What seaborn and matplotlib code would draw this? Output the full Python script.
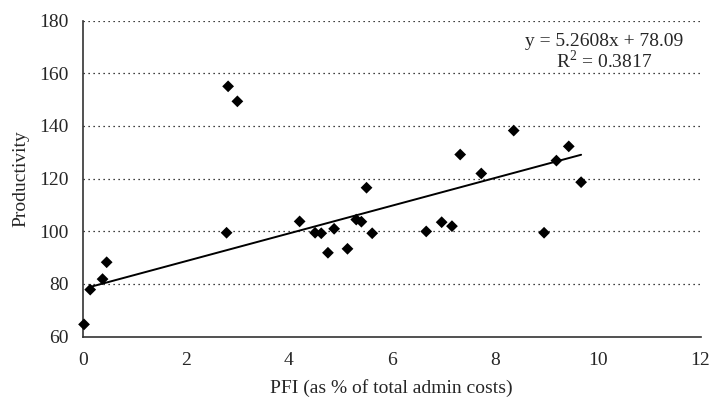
import numpy as np
import pandas as pd
import matplotlib
matplotlib.use("Agg")
import matplotlib.pyplot as plt
import seaborn as sns

pfi = [0.02, 0.14, 0.38, 0.46, 2.79, 2.82, 3.0, 4.21, 4.51, 4.63, 4.76, 4.88,
       5.14, 5.31, 5.41, 5.51, 5.62, 6.67, 6.97, 7.17, 7.33, 7.74, 8.37,
       8.96, 9.20, 9.44, 9.68]
productivity = [64.6, 77.8, 81.8, 88.2, 99.4, 155.0, 149.3, 103.7, 99.4, 99.2,
                91.8, 100.9, 93.3, 104.4, 103.6, 116.5, 99.2, 99.9, 103.4,
                101.9, 129.1, 121.9, 138.2, 99.4, 126.8, 132.2, 118.6]
slope = 5.2608
intercept = 78.09
r2 = 0.3817
x_ticks = [0, 2, 4, 6, 8, 10, 12]
y_ticks = [60, 80, 100, 120, 140, 160, 180]

df = pd.DataFrame({"PFI": pfi, "Productivity": productivity})

sns.set_style("white")
plt.rcParams['font.family'] = ['Liberation Serif', 'DejaVu Serif']
plt.rcParams['mathtext.fontset'] = 'custom'
plt.rcParams['mathtext.rm'] = 'Liberation Serif'

fig = plt.figure(figsize=(7.11, 3.97), dpi=100)
ax = fig.add_axes([83/711, 1-336.5/397, (700.5-83)/711, (336.5-20.5)/397])

for yv in y_ticks[1:]:
    ax.axhline(yv, color='black', linestyle=(0, (1, 3)), linewidth=0.9, zorder=0)

sns.scatterplot(data=df, x="PFI", y="Productivity", marker='D', s=36,
                color='black', edgecolor='none', ax=ax, zorder=3, clip_on=False)

xl = np.array([min(pfi) + 0.1, max(pfi)])
fit = pd.DataFrame({"x": xl, "y": slope * xl + intercept})
sns.lineplot(data=fit, x="x", y="y", color='black', linewidth=1.4, ax=ax, zorder=2)

ax.set_xlim(0, 12)
ax.set_ylim(60, 180)
ax.set_xticks(x_ticks)
ax.set_yticks(y_ticks)
ax.tick_params(axis='both', direction='out', length=5.5, width=1, color='#333333',
               labelsize=14)
ax.tick_params(axis='x', pad=6)
ax.tick_params(axis='y', pad=5)
for s in ['top', 'right']:
    ax.spines[s].set_visible(False)
for s in ['left', 'bottom']:
    ax.spines[s].set_color('#333333')
    ax.spines[s].set_linewidth(1.2)
ax.set_xlabel("PFI (as % of total admin costs)", fontsize=14, labelpad=7)
ax.set_ylabel("Productivity", fontsize=14, labelpad=7)

ax.text(0.8437, 0.935, f"y = {slope}x + {intercept}", transform=ax.transAxes,
        ha='center', va='center', fontsize=14)
ax.text(0.8437, 0.872, f"R$^{{2}}$ = {r2}", transform=ax.transAxes,
        ha='center', va='center', fontsize=14)

fig.savefig("out.png", dpi=100)
